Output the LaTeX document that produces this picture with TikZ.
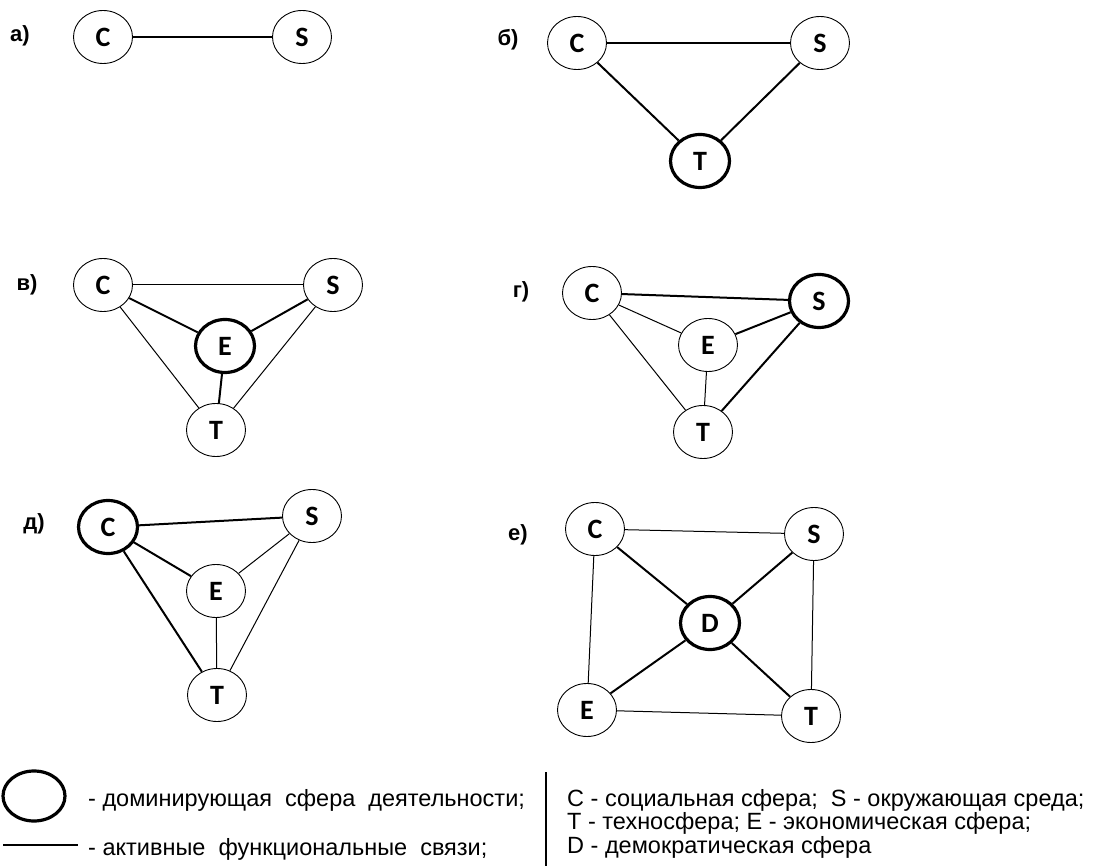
\documentclass[tikz,border=0pt]{standalone}
\usepackage{fontspec}
\setmainfont{Liberation Sans}
\newfontfamily\letterfont{Carlito}
\usetikzlibrary{shapes,positioning}
\usetikzlibrary{shapes.geometric}

\begin{document}
\begin{tikzpicture}[x=1pt,y=-1pt,
    sphere/.style={draw,ellipse,minimum width=59pt,minimum height=53pt,inner sep=0pt,line width=0.9pt,font=\letterfont\bfseries\fontsize{28}{28}\selectfont},
    dom/.style={sphere,line width=3.2pt},
    act/.style={line width=2pt},
    weak/.style={line width=1pt},
    panel/.style={font=\bfseries\fontsize{22}{22}\selectfont}]

    \useasboundingbox (0,0) rectangle (1101,866);

    % a)
    \node[panel] at (20,36) {а)};
    \node[sphere] (1) at (103,37) {C};
    \node[sphere, right of=1, node distance=199pt] (2) {S};

    % б)
    \node[panel] at (508,40) {б)};
    \node[sphere] (3) at (577,43) {C};
    \node[sphere, right of=3, node distance=243pt] (4) {S};
    \node[dom] (5) at (700,161) {T};

    % в)
    \node[panel] at (27,285) {в)};
    \node[sphere] (6) at (103,285) {C};
    \node[sphere, right of=6, node distance=230pt] (7) {S};
    \node[dom] (8) at (225,346) {E};
    \node[sphere] (9) at (216,430) {T};

    % г)
    \node[panel] at (521,292) {г)};
    \node[sphere] (10) at (592,293) {C};
    \node[dom] (11) at (819,301) {S};
    \node[sphere] (12) at (708,345) {E};
    \node[sphere] (13) at (703,432) {T};

    % д)
    \node[panel] at (34,524) {д)};
    \node[dom] (14) at (108,527) {C};
    \node[sphere] (15) at (312,516) {S};
    \node[sphere] (16) at (216,591) {E};
    \node[sphere] (17) at (217,695) {T};

    % е)
    \node[panel] at (518,535) {е)};
    \node[sphere] (18) at (595,529) {C};
    \node[sphere] (19) at (814,534) {S};
    \node[dom] (20) at (710,623) {D};
    \node[sphere] (21) at (587,710) {E};
    \node[sphere] (22) at (811,716) {T};

    \path
    (1) edge[act] (2)
    (3) edge[act] (4)
    (3) edge[act] (5)
    (4) edge[act] (5)
    (6) edge[weak] (7)
    (6) edge[act] (8)
    (7) edge[act] (8)
    (8) edge[act] (9)
    (6) edge[weak] (9)
    (7) edge[weak] (9)
    (10) edge[act] (11)
    (10) edge[weak] (12)
    (11) edge[act] (12)
    (11) edge[act] (13)
    (10) edge[weak] (13)
    (12) edge[weak] (13)
    (14) edge[act] (15)
    (14) edge[act] (16)
    (14) edge[act] (17)
    (15) edge[weak] (16)
    (15) edge[weak] (17)
    (16) edge[weak] (17)
    (18) edge[weak] (19)
    (19) edge[weak] (22)
    (22) edge[weak] (21)
    (21) edge[weak] (18)
    (20) edge[act] (18)
    (20) edge[act] (19)
    (20) edge[act] (21)
    (20) edge[act] (22);

    % legend
    \node[dom, minimum width=62pt, minimum height=50pt] (23) at (34,796) {};
    \draw[line width=2.4pt] (3,845) -- (78,845);
    \draw[line width=1.8pt] (546,772) -- (546,866);
    \begin{scope}[font=\fontsize{23.5}{23.5}\selectfont]
    \node[anchor=west, inner sep=0pt] (24) at (88,800) {- доминирующая\ \ сфера\ \ деятельности;};
    \node[anchor=west, inner sep=0pt] (25) at (88,849) {- активные\ \ функциональные\ \ связи;};
    \node[anchor=north west, inner sep=0pt, align=left] (26) at (567,789)
        {C - социальная сфера;\ \ S - окружающая среда;\\
         T - техносфера; E - экономическая сфера;\\
         D - демократическая сфера};
    \end{scope}
\end{tikzpicture}
\end{document}
